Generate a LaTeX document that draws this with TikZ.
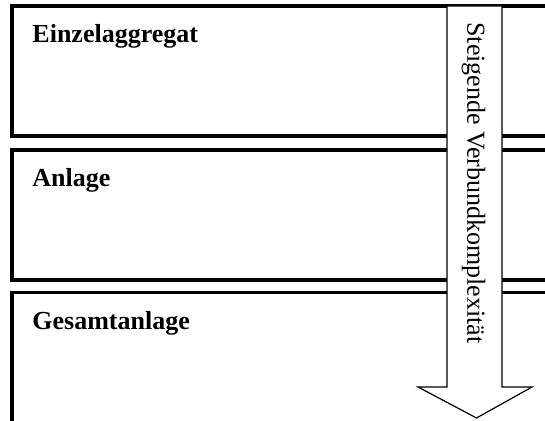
\documentclass[tikz,border=0pt]{standalone}
\usepackage{fontspec}
\setmainfont{Liberation Serif}
\usetikzlibrary{positioning,calc}

\begin{document}
\begin{tikzpicture}[x=1pt, y=1pt,
  level/.style={draw, line width=3.5pt, inner sep=0pt,
                minimum width=560pt, minimum height=130pt},
  lvllbl/.style={font=\fontsize{26}{30}\selectfont\bfseries,
                 anchor=base west, inner sep=0pt},
  shaft/.style={draw, fill=white, line width=1.2pt},
  node distance=10.5pt]
\useasboundingbox (0,0) rectangle (545,-420);
\clip (0,0) rectangle (545,-420);
\node[level, anchor=north west] (einzel) at (10.25,-4.25) {};
\node[level, below=of einzel] (anlage) {};
\node[level, below=9pt of anlage, minimum height=150pt] (gesamt) {};
\node[lvllbl] (einzellbl) at ($(einzel.north west)+(22,-38.5)$) {Einzelaggregat};
\node[lvllbl] (anlagelbl) at ($(anlage.north west)+(22,-38.5)$) {Anlage};
\node[lvllbl] (gesamtlbl) at ($(gesamt.north west)+(22,-38.5)$) {Gesamtanlage};
% Pfeil ueber allen Ebenen
\draw[shaft] (447,-6) -- (447,-387) -- (418,-387) -- (476.5,-418)
  -- (532,-387) -- (502,-387) -- (502,-6) -- cycle;
\node[rotate=-90, inner sep=0pt, font=\fontsize{26}{30}\selectfont]
  (komplex) at (473.5,-183) {Steigende Verbundkomplexität};
\end{tikzpicture}
\end{document}
